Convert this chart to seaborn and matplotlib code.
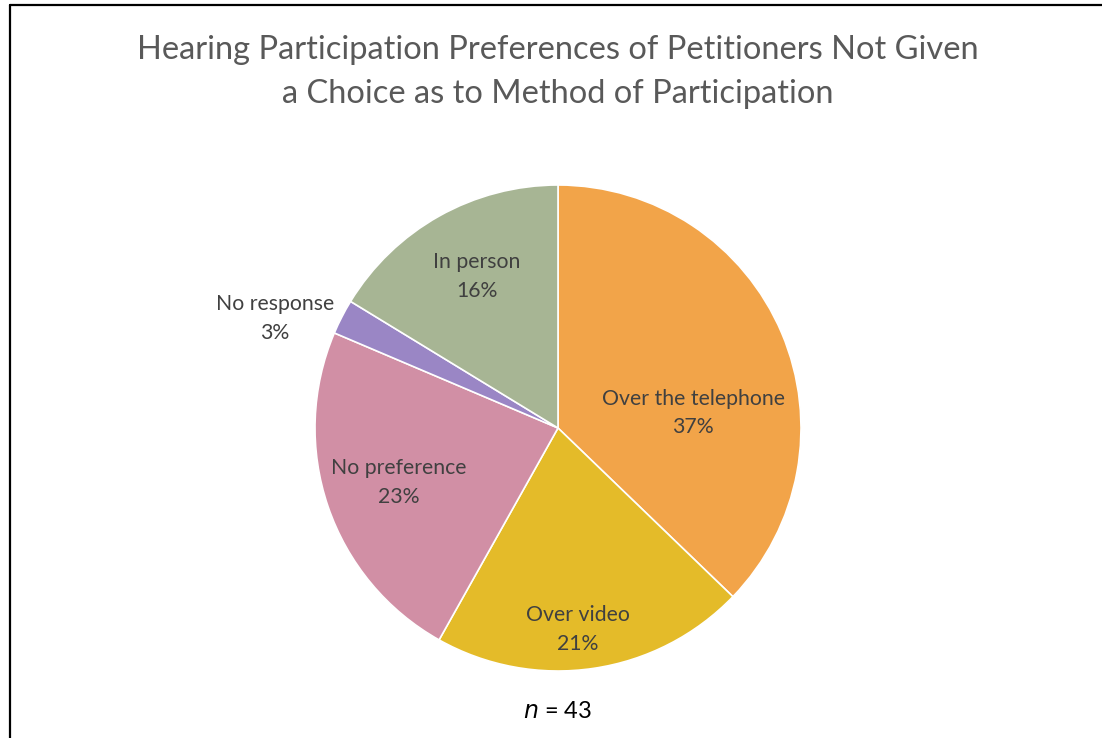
import matplotlib
matplotlib.use("Agg")
import matplotlib.pyplot as plt
from matplotlib.lines import Line2D
import seaborn as sns

categories = ["Over the telephone", "Over video", "No preference", "No response", "In person"]
counts = [16, 9, 10, 1, 7]
pct_labels = ["37%", "21%", "23%", "3%", "16%"]
colors = ["#F2A449", "#E4BB29", "#D18FA5", "#9A86C5", "#A7B594"]
title = "Hearing Participation Preferences of Petitioners Not Given\na Choice as to Method of Participation"
n_total = 43

sns.set_theme(style="white")
plt.rcParams['font.family'] = ['Lato', 'DejaVu Sans']

fig = plt.figure(figsize=(11.02, 7.38), dpi=100)
# pie axes: center (558, 428) px, radius 243 px
r = 243
cx, cy = 558, 428
W, H = 1102, 738
ax = fig.add_axes([(cx - r) / W, 1 - (cy + r) / H, 2 * r / W, 2 * r / H])
wedges, _ = ax.pie(counts, colors=colors, startangle=90, counterclock=False,
                   wedgeprops=dict(edgecolor="white", linewidth=1.2))
ax.set_xlim(-1, 1)
ax.set_ylim(-1, 1)
ax.set_aspect("equal")
ax.axis("off")

# label positions (relative to radius)
label_pos = [(0.556, 0.062), (0.08, -0.828), (-0.655, -0.223), (-1.165, 0.452), (-0.335, 0.622)]
for cat, pct, (lx, ly) in zip(categories, pct_labels, label_pos):
    ax.text(lx, ly, f"{cat}\n{pct}", ha="center", va="center", fontsize=15.3,
            color="#404040", linespacing=1.55, clip_on=False)

fig.text(558 / W, 1 - 72 / H, title, ha="center", va="center", fontsize=23.5,
         color="#595959", linespacing=1.55)
fig.text(558 / W, 1 - 711 / H, r"$\it{n}$ = " + str(n_total), ha="center", va="center",
         fontsize=17, color="black")

# frame lines
fig.add_artist(Line2D([10 / W, 10 / W], [1 - 5 / H, 0], color="black", linewidth=1.6, transform=fig.transFigure))
fig.add_artist(Line2D([10 / W, 1], [1 - 5 / H, 1 - 5 / H], color="black", linewidth=1.6, transform=fig.transFigure))

fig.savefig("out.png", dpi=100, facecolor="white")
